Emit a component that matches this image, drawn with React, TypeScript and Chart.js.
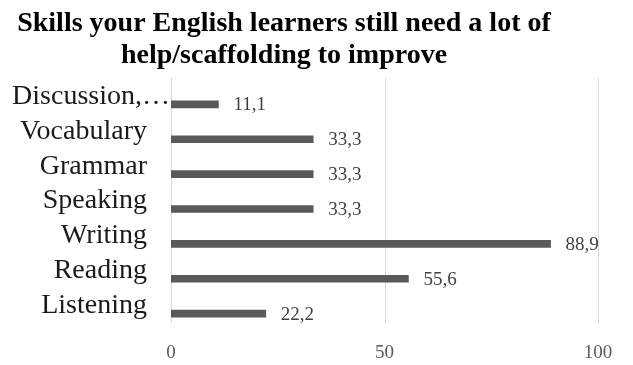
import React, { useEffect, useRef } from "react";
import { Chart, registerables } from "chart.js";

Chart.register(...registerables);

const categories = ["Discussion,…", "Vocabulary", "Grammar", "Speaking", "Writing", "Reading", "Listening"];
const values = [11.1, 33.3, 33.3, 33.3, 88.9, 55.6, 22.2];
const titleLines = ["Skills your English learners still need a lot of", "help/scaffolding to improve"];
const xTicks = [0, 50, 100];

const SERIF = "'Liberation Serif', 'Times New Roman', serif";

const valueLabels = {
  id: "valueLabels",
  afterDatasetsDraw(chart: any) {
    const ctx = chart.ctx;
    const meta = chart.getDatasetMeta(0);
    ctx.save();
    ctx.font = `19px ${SERIF}`;
    ctx.fillStyle = "#404040";
    ctx.textAlign = "left";
    ctx.textBaseline = "middle";
    meta.data.forEach((bar: any, i: number) => {
      const v = chart.data.datasets[0].data[i] as number;
      ctx.fillText(v.toFixed(1).replace(".", ","), bar.x + 15, bar.y + 1);
    });
    ctx.restore();
  },
};

const gridTitleLabels = {
  id: "gridTitleLabels",
  beforeDatasetsDraw(chart: any) {
    const ctx = chart.ctx;
    const xs = chart.scales.x;
    const area = chart.chartArea;
    ctx.save();
    ctx.strokeStyle = "#d9d9d9";
    ctx.lineWidth = 1;
    xTicks.forEach((v) => {
      const x = Math.round(xs.getPixelForValue(v)) + 0.5;
      ctx.beginPath();
      ctx.moveTo(x, area.top - 9);
      ctx.lineTo(x, area.bottom - 8);
      ctx.stroke();
    });
    ctx.restore();
  },
  afterDraw(chart: any) {
    const ctx = chart.ctx;
    const ys = chart.scales.y;
    ctx.save();
    // title
    ctx.font = `bold 28px ${SERIF}`;
    ctx.fillStyle = "#000";
    ctx.textAlign = "center";
    ctx.textBaseline = "alphabetic";
    titleLines.forEach((t, i) => {
      ctx.fillText(t, 284, 31 + i * 32);
    });
    // category labels
    ctx.font = `28px ${SERIF}`;
    ctx.fillStyle = "#1a1a1a";
    ctx.textAlign = "right";
    ctx.textBaseline = "middle";
    (chart.data.labels as string[]).forEach((lab, i) => {
      const y = ys.getPixelForTick(i) - 8;
      const xRight = lab.endsWith("…") ? ys.right - 1 : ys.right - 24;
      ctx.fillText(lab, xRight, y);
    });
    ctx.restore();
  },
};

export default function App() {
  const ref = useRef<HTMLCanvasElement>(null);
  useEffect(() => {
    document.body.style.margin = "0";
    const chart = new Chart(ref.current!, {
      type: "bar",
      data: {
        labels: categories,
        datasets: [
          {
            data: values,
            backgroundColor: "#595959",
            barThickness: 7,
          },
        ],
      },
      options: {
        indexAxis: "y",
        animation: false,
        responsive: false,
        maintainAspectRatio: false,
        layout: { padding: { left: 0, right: 35, top: 87, bottom: 0 } },
        plugins: {
          legend: { display: false },
          tooltip: { enabled: false },
          title: { display: false },
        },
        scales: {
          x: {
            min: 0,
            max: 100,
            afterBuildTicks: (s: any) => {
              s.ticks = xTicks.map((v) => ({ value: v }));
            },
            afterFit: (s: any) => {
              s.height = 34;
            },
            grid: { display: false, drawTicks: false },
            border: { display: false },
            ticks: {
              color: "#595959",
              font: { family: SERIF, size: 19 },
              padding: 11,
              maxRotation: 0,
            },
          },
          y: {
            grid: { display: false, drawTicks: false },
            border: { display: false },
            afterFit: (s: any) => {
              s.width = 171;
            },
            ticks: { display: false, autoSkip: false },
          },
        },
      },
      plugins: [gridTitleLabels, valueLabels],
    });
    return () => chart.destroy();
  }, []);
  return <canvas ref={ref} width={633} height={365} style={{ display: "block" }} />;
}
